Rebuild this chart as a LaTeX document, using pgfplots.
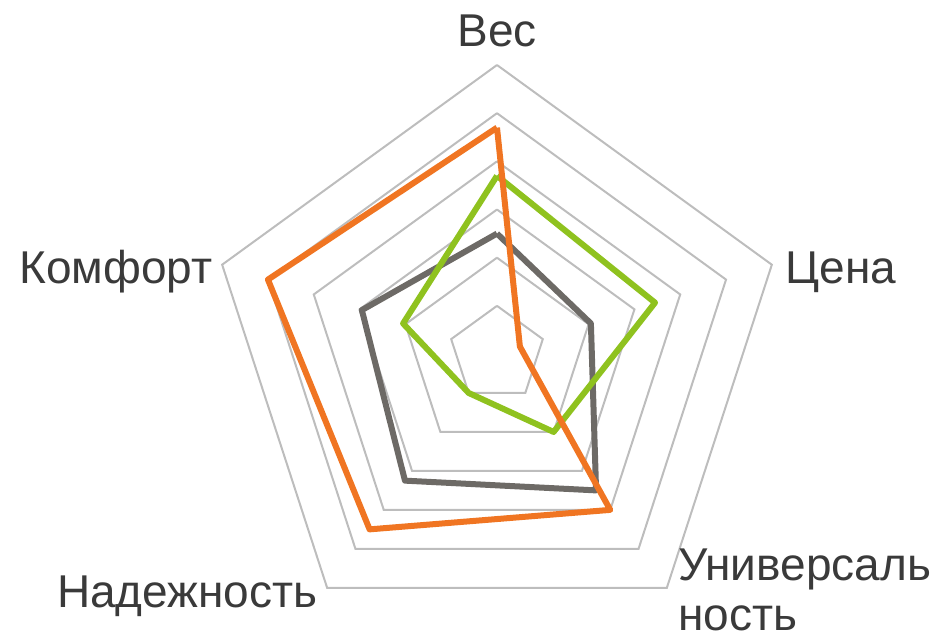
\documentclass[border=0pt]{standalone}
\usepackage{pgfplots}
\pgfplotsset{compat=1.18}
\usepgfplotslibrary{polar}
\usepackage{fontspec}
\setmainfont{Liberation Sans}
\definecolor{gridc}{HTML}{BDBDBD}
\definecolor{seriesO}{HTML}{F07522}
\definecolor{seriesG}{HTML}{8FC21F}
\definecolor{seriesK}{HTML}{6D6A66}
\definecolor{txt}{HTML}{3A3A3A}
\begin{document}
\begin{tikzpicture}
\useasboundingbox (-248.5pt,-142pt) rectangle (225.5pt,177pt);
\begin{polaraxis}[
  at={(0,0)}, anchor=center,
  scale only axis, width=289pt, height=289pt,
  ymin=0, ymax=6, xmin=0, xmax=360,
  hide axis, clip=false,
]
% grid pentagons
\addplot[gridc, line width=1pt, line join=miter] coordinates {(90,1) (18,1) (-54,1) (-126,1) (162,1) (90,1)};
\addplot[gridc, line width=1pt, line join=miter] coordinates {(90,2) (18,2) (-54,2) (-126,2) (162,2) (90,2)};
\addplot[gridc, line width=1pt, line join=miter] coordinates {(90,3) (18,3) (-54,3) (-126,3) (162,3) (90,3)};
\addplot[gridc, line width=1pt, line join=miter] coordinates {(90,4) (18,4) (-54,4) (-126,4) (162,4) (90,4)};
\addplot[gridc, line width=1pt, line join=miter] coordinates {(90,5) (18,5) (-54,5) (-126,5) (162,5) (90,5)};
\addplot[gridc, line width=1pt, line join=miter] coordinates {(90,6) (18,6) (-54,6) (-126,6) (162,6) (90,6)};
% series
\addplot[seriesK, line width=3pt, line join=round] coordinates {(90,2.5) (18,2.05) (-54,3.5) (-126,3.25) (162,2.95) (90,2.5)};
\addplot[seriesG, line width=3pt, line join=round] coordinates {(90,3.7) (18,3.45) (-54,2.0) (-126,1.0) (162,2.05) (90,3.7)};
\addplot[seriesO, line width=3pt, line join=round] coordinates {(90,4.7) (18,0.5) (-54,4.0) (-126,4.5) (162,5.0) (90,4.7)};
\end{polaraxis}
\begin{scope}[every node/.style={font=\fontsize{23}{27}\selectfont, text=txt, inner sep=0pt}]
\node[anchor=base] at (0pt,153.5pt) {Вес};
\node[anchor=base west] at (144pt,35.5pt) {Цена};
\node[anchor=base east] at (-142pt,35.5pt) {Комфорт};
\node[anchor=base east] at (-89.5pt,-126.5pt) {Надежность};
\node[anchor=base west] at (90.5pt,-113pt) {Универсаль};
\node[anchor=base west] at (90.5pt,-138pt) {ность};
\end{scope}
\end{tikzpicture}
\end{document}
